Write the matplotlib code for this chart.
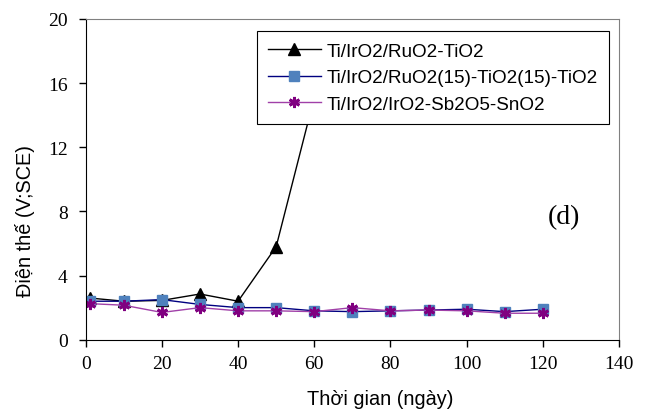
import matplotlib.pyplot as plt

# Dữ liệu
ngay_den = [1, 10, 20, 30, 40, 50, 60]
the_den = [2.6, 2.4, 2.45, 2.85, 2.4, 5.8, 15.1]

ngay = [1, 10, 20, 30, 40, 50, 60, 70, 80, 90, 100, 110, 120]
the_xanh = [2.4, 2.4, 2.5, 2.2, 2.0, 2.0, 1.8, 1.75, 1.8, 1.85, 1.9, 1.75, 1.9]
the_tim = [2.25, 2.15, 1.7, 2.0, 1.8, 1.8, 1.75, 2.0, 1.8, 1.85, 1.8, 1.65, 1.65]

nhan = ["Ti/IrO2/RuO2-TiO2",
        "Ti/IrO2/RuO2(15)-TiO2(15)-TiO2",
        "Ti/IrO2/IrO2-Sb2O5-SnO2"]

W, H = 651, 414
fig = plt.figure(figsize=(6.51, 4.14), dpi=100)
ax = fig.add_axes([85.7 / W, 1 - 340.7 / H, (619 - 85.7) / W, (340.7 - 20) / H])

ax.plot(ngay_den, the_den, color="black", lw=1, marker="^", ms=8, label=nhan[0])
ax.plot(ngay, the_xanh, color="#000080", lw=1, marker="s", ms=7.5,
        markerfacecolor="#4F81BD", markeredgecolor="#4F81BD", label=nhan[1])
ax.plot(ngay, the_tim, color="#A040A8", lw=1, marker=(6, 2, 0), ms=8, mew=2,
        markeredgecolor="#800080", markerfacecolor="#800080", label=nhan[2])

ax.set_xlim(0, 140)
ax.set_ylim(0, 20)
ax.set_xticks(range(0, 141, 20))
ax.set_yticks(range(0, 21, 4))
for t in ax.get_xticklabels() + ax.get_yticklabels():
    t.set_fontfamily("Liberation Serif")
    t.set_fontsize(14)
ax.tick_params(direction="out", length=5, width=1, color="black")
ax.tick_params(axis="x", pad=6)
ax.tick_params(axis="y", pad=8)

ax.spines["top"].set_color("#808080")
ax.spines["right"].set_color("#808080")
ax.spines["left"].set_color("black")
ax.spines["bottom"].set_color("black")

fig.text(380 / W, 1 - 400 / H, "Thời gian (ngày)", fontfamily="Liberation Sans",
         fontsize=14.3, ha="center", va="center")
fig.text(25 / W, 1 - 221 / H, "Điện thế (V;SCE)", fontfamily="Liberation Sans",
         fontsize=14.3, ha="center", va="center", rotation=90)

ax.text(125.6, 7.7, "(d)", fontfamily="Liberation Serif", fontsize=20, ha="center", va="center")

leg = ax.legend(loc="upper right", bbox_to_anchor=(609 / W, 1 - 32 / H),
                bbox_transform=fig.transFigure, fancybox=False, framealpha=1,
                edgecolor="black", prop={"family": "Liberation Sans", "size": 13.6},
                handlelength=2.8, handletextpad=0.3, borderaxespad=0,
                labelspacing=0.5, borderpad=0.6)
leg.get_frame().set_linewidth(0.8)

fig.savefig("out.png", dpi=100)
